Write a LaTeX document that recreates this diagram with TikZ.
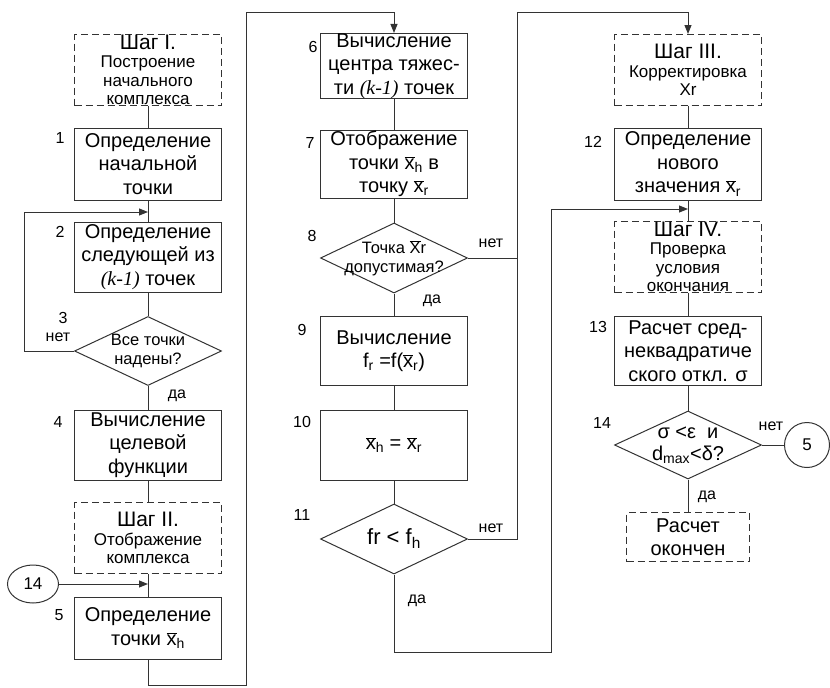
\documentclass[tikz,border=0pt]{standalone}
\usepackage{fontspec}
\setmainfont{Liberation Sans}
\newfontfamily\timesfont{Liberation Serif}
\usetikzlibrary{arrows.meta,shapes.geometric,calc}

\newcommand{\xov}[1]{$\overline{\mbox{x}}$\textsubscript{#1}}
\newcommand{\kk}{{\timesfont\itshape (k-1)}}
\newcommand{\shagfont}{\fontsize{21}{22}\selectfont}

\begin{document}
\begin{tikzpicture}[x=1pt,y=-1pt,line width=1pt,draw=black!80,
  blok/.style={draw,minimum width=147pt,inner sep=0pt,align=center,text=black,font=\fontsize{20}{23.5}\selectfont},
  shag/.style={blok,dash pattern=on 7pt off 4pt,font=\fontsize{17}{18.5}\selectfont},
  romb/.style={draw,diamond,minimum width=147pt,minimum height=70pt,inner sep=0pt},
  rtext/.style={align=center,inner sep=0pt,text=black,font=\fontsize{16.5}{19}\selectfont},
  num/.style={inner sep=0pt,text=black,font=\fontsize{16}{16}\selectfont},
  krug/.style={draw,inner sep=0pt,text=black,font=\fontsize{17}{17}\selectfont},
  arr/.style={-{Triangle[length=9pt,width=7pt]}}]

  \useasboundingbox (0,0) rectangle (830,688);

  % column I
  \node[shag,minimum height=71pt] (shag1) at (148,70) {{\shagfont Шаг I.}\\Построение\\начального\\комплекса};
  \node[blok,minimum height=72pt] (b1) at (148,164) {Определение\\начальной\\точки};
  \node[blok,minimum height=70pt] (b2) at (148,257) {Определение\\следующей из\\\kk{} точек};
  \node[romb,minimum height=69pt,label={[rtext]center:Все точки\\надены?}] (r3) at (148,351) {};
  \node[blok,minimum height=70pt] (b4) at (148,445) {Вычисление\\целевой\\функции};
  \node[shag,minimum height=71pt] (shag2) at (148,538) {{\shagfont Шаг II.}\\Отображение\\комплекса};
  \node[blok,minimum height=62pt] (b5) at (148,628) {Определение\\точки \xov{h}};
  \node[krug,ellipse,minimum width=51pt,minimum height=38pt] (c14) at (33,584) {14};

  % column II
  \node[blok,minimum height=62pt] (b6) at (394,66) {Вычисление\\центра тяжес-\\ти \kk{} точек};
  \node[blok,minimum height=68pt] (b7) at (394,164) {Отображение\\точки \xov{h} в\\точку \xov{r}};
  \node[romb,label={[rtext]center:Точка $\overline{\mbox{X}}$r\\допустимая?}] (r8) at (394,258) {};
  \node[blok,minimum height=69pt] (b9) at (394,351) {Вычисление\\f\textsubscript{r} =f(\xov{r})};
  \node[blok,minimum height=70pt] (b10) at (394,445) {\xov{h} = \xov{r}};
  \node[romb,label={[rtext,font=\fontsize{22}{24}\selectfont]center:fr < f\textsubscript{h}}] (r11) at (394,539) {};

  % column III
  \node[shag,minimum height=71pt] (shag3) at (688,70) {{\shagfont Шаг III.}\\Корректировка\\Xr};
  \node[blok,minimum height=72pt] (b12) at (688,164) {Определение\\нового\\значения \xov{r}};
  \node[shag,minimum height=71pt] (shag4) at (688,257) {{\shagfont Шаг IV.}\\Проверка\\условия\\окончания};
  \node[blok,minimum height=69pt] (b13) at (688,351) {Расчет сред-\\неквадратиче\\ского откл. σ};
  \node[romb,minimum height=68pt,label={[rtext,font=\fontsize{20}{22}\selectfont]center:σ <ε \ и\\d\textsubscript{max}<δ?}] (r14) at (688,445) {};
  \node[blok,dash pattern=on 7pt off 4pt,minimum width=123pt,minimum height=49pt] (fin) at (688,537) {Расчет\\окончен};
  \node[krug,circle,minimum size=45pt] (c5) at (807,445) {5};

  % numbers
  \node[num] (n1) at (60,138) {1};
  \node[num] (n2) at (60,232) {2};
  \node[num] (n3) at (63,318) {3};
  \node[num] (n4) at (58,422) {4};
  \node[num] (n5) at (59,615) {5};
  \node[num] (n6) at (313,47) {6};
  \node[num] (n7) at (310,143) {7};
  \node[num] (n8) at (312,236) {8};
  \node[num] (n9) at (302,330) {9};
  \node[num] (n10) at (302,422) {10};
  \node[num] (n11) at (302,515) {11};
  \node[num] (n12) at (593,142) {12};
  \node[num] (n13) at (598,327) {13};
  \node[num] (n14) at (602,423) {14};

  \node[num] (net3) at (58,337) {нет};
  \node[num] (da3) at (177,396) {да};
  \node[num] (net8) at (491,243) {нет};
  \node[num] (da8) at (432,301) {да};
  \node[num] (net11) at (491,528) {нет};
  \node[num] (da11) at (417,601) {да};
  \node[num] (net14) at (771,426) {нет};
  \node[num] (da14) at (707,497) {да};

  \coordinate (p2) at (148,212);
  \coordinate (p5) at (148,584);
  \coordinate (p12) at (688,209);
  \coordinate (ug1) at (246,685);
  \coordinate (ug2) at (246,12);
  \coordinate (ug3) at (517,12);
  \coordinate (ug4) at (551,652);

  \draw (shag1) -- (b1);
  \draw (b1) -- (b2);
  \draw (b2) -- (r3);
  \draw[arr] (r3.west) -- ++(-50,0) |- (p2);
  \draw (r3) -- (b4);
  \draw (b4) -- (shag2);
  \draw (shag2) -- (b5);
  \draw[arr] (c14) -- (p5);
  \draw[arr] (b5) -- (b5 |- ug1) -- (ug1) -- (ug2) -| (b6);

  \draw (b6) -- (b7);
  \draw (b7) -- (r8);
  \draw (r8) -- (b9);
  \draw (b9) -- (b10);
  \draw (b10) -- (r11);
  \draw (r8) -- (r8 -| ug3);
  \draw[arr] (r11) -- (r11 -| ug3) -- (ug3) -| (shag3);
  \draw[arr] (r11) -- (r11 |- ug4) -- (ug4) |- (p12);

  \draw (shag3) -- (b12);
  \draw (b12) -- (shag4);
  \draw (shag4) -- (b13);
  \draw (b13) -- (r14);
  \draw (r14) -- (c5);
  \draw (r14) -- (fin);
\end{tikzpicture}
\end{document}
